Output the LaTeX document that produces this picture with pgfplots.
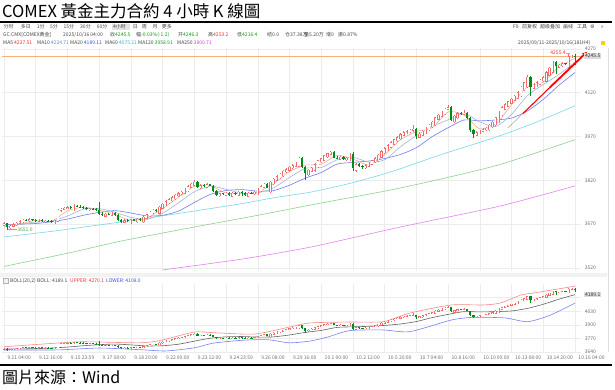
\documentclass[border=0pt]{standalone}
\usepackage{fontspec}
\usepackage{pgfplots}
\pgfplotsset{compat=1.18}
\usepackage{pgfplotstable}
\usetikzlibrary{arrows.meta}
\setmainfont{Noto Sans CJK SC}
\newfontfamily\tcfont{Noto Sans CJK TC}
\newfontfamily\symfont{DejaVu Sans}

\definecolor{upred}{RGB}{243,105,105}
\definecolor{dngreen}{RGB}{0,140,20}
\definecolor{gridc}{RGB}{236,236,236}
\definecolor{ma5c}{RGB}{240,160,140}
\definecolor{ma10c}{RGB}{165,180,215}
\definecolor{ma20c}{RGB}{110,125,240}
\definecolor{ma60c}{RGB}{120,215,235}
\definecolor{ma120c}{RGB}{140,210,140}
\definecolor{ma250c}{RGB}{228,130,240}
\definecolor{bollup}{RGB}{245,140,140}
\definecolor{bollmid}{RGB}{100,100,100}
\definecolor{bolllow}{RGB}{120,130,245}
\definecolor{txtgray}{RGB}{110,110,110}
\definecolor{txtdark}{RGB}{70,70,70}
\definecolor{lastc}{RGB}{245,175,120}
\definecolor{valred}{RGB}{230,50,50}
\definecolor{valgreen}{RGB}{20,150,20}
\definecolor{valblue}{RGB}{50,80,230}
\definecolor{valcyan}{RGB}{60,180,220}
\definecolor{valmag}{RGB}{210,60,220}
\definecolor{valgb}{RGB}{100,140,200}

\pgfplotstableread{
i o h l c
0 3665 3676 3662 3672
1 3672 3674 3651 3660
2 3656 3668 3654 3665
3 3661 3673 3659 3670
4 3666 3678 3664 3675
5 3671 3683 3669 3680
6 3677 3688 3675 3684
7 3684 3687 3679 3682
8 3679 3690 3677 3686
9 3686 3689 3680 3683
10 3683 3686 3678 3681
11 3678 3688 3676 3684
12 3684 3686 3676 3679
13 3676 3685 3674 3682
14 3682 3685 3677 3680
15 3680 3683 3673 3676
16 3672 3684 3670 3681
17 3678 3721 3676 3718
18 3715 3726 3713 3722
19 3719 3729 3717 3725
20 3722 3732 3720 3728
21 3728 3731 3720 3724
22 3717 3738 3715 3733
23 3733 3736 3727 3730
24 3730 3734 3725 3727
25 3727 3731 3723 3726
26 3726 3729 3717 3720
27 3717 3726 3715 3723
28 3723 3726 3718 3721
29 3721 3724 3716 3719
30 3719 3746 3702 3705
31 3705 3710 3696 3700
32 3695 3709 3693 3706
33 3706 3709 3700 3703
34 3699 3711 3697 3708
35 3708 3710 3697 3700
36 3700 3703 3680 3684
37 3684 3687 3672 3678
38 3674 3686 3672 3683
39 3683 3686 3676 3679
40 3673 3689 3671 3686
41 3686 3689 3679 3682
42 3677 3691 3675 3688
43 3688 3690 3682 3685
44 3677 3698 3675 3695
45 3689 3706 3687 3703
46 3696 3715 3694 3712
47 3707 3721 3705 3718
48 3718 3720 3712 3716
49 3705 3733 3703 3730
50 3722 3743 3720 3740
51 3734 3751 3732 3748
52 3742 3758 3740 3755
53 3749 3765 3747 3762
54 3756 3773 3754 3770
55 3765 3779 3763 3776
56 3772 3784 3770 3781
57 3774 3793 3772 3790
58 3782 3803 3780 3800
59 3794 3811 3792 3808
60 3802 3820 3800 3815
61 3815 3818 3794 3797
62 3792 3806 3790 3803
63 3803 3806 3797 3800
64 3795 3809 3793 3806
65 3806 3808 3799 3802
66 3802 3805 3781 3784
67 3784 3787 3765 3770
68 3766 3778 3764 3775
69 3775 3778 3769 3772
70 3767 3781 3765 3778
71 3778 3780 3766 3770
72 3764 3780 3762 3777
73 3777 3780 3770 3773
74 3767 3783 3765 3780
75 3780 3783 3765 3776
76 3776 3779 3767 3770
77 3764 3781 3762 3778
78 3778 3781 3773 3776
79 3773 3783 3771 3780
80 3772 3793 3770 3790
81 3782 3803 3780 3800
82 3794 3811 3792 3808
83 3808 3811 3792 3795
84 3779 3818 3777 3815
85 3807 3828 3805 3825
86 3818 3837 3816 3834
87 3828 3845 3826 3842
88 3834 3855 3832 3852
89 3847 3861 3845 3858
90 3852 3869 3850 3866
91 3861 3875 3859 3872
92 3866 3883 3864 3880
93 3866 3900 3864 3897
94 3897 3899 3862 3866
95 3866 3869 3822 3845
96 3837 3858 3835 3855
97 3849 3865 3847 3862
98 3852 3878 3850 3875
99 3865 3891 3863 3888
100 3882 3898 3880 3895
101 3887 3908 3885 3905
102 3899 3915 3897 3912
103 3908 3921 3906 3917
104 3917 3920 3895 3898
105 3898 3902 3892 3895
106 3891 3904 3889 3900
107 3900 3903 3890 3893
108 3889 3901 3887 3898
109 3888 3913 3886 3910
110 3910 3918 3852 3862
111 3852 3878 3850 3875
112 3875 3878 3864 3868
113 3868 3871 3860 3866
114 3861 3875 3859 3872
115 3866 3883 3864 3880
116 3874 3891 3872 3888
117 3882 3899 3880 3896
118 3886 3911 3884 3908
119 3898 3923 3896 3920
120 3912 3933 3910 3930
121 3922 3943 3920 3940
122 3932 3953 3930 3950
123 3942 3963 3940 3960
124 3954 3971 3952 3968
125 3960 3981 3958 3978
126 3972 3988 3970 3985
127 3982 3991 3980 3988
128 3985 3995 3983 3992
129 3989 4010 3987 3996
130 3996 3999 3960 3972
131 3966 3984 3964 3980
132 3972 3993 3970 3990
133 3982 4003 3980 4000
134 3992 4013 3990 4010
135 4002 4023 4000 4020
136 4008 4038 4006 4035
137 4027 4048 4025 4045
138 4037 4058 4035 4055
139 4047 4068 4045 4065
140 4061 4078 4059 4070
141 4070 4073 4022 4028
142 4018 4043 4016 4040
143 4032 4053 4030 4050
144 4050 4054 4043 4048
145 4045 4062 4043 4052
146 4052 4055 4030 4034
147 4034 4037 3985 3992
148 3992 3996 3965 3978
149 3972 3988 3970 3985
150 3981 3993 3979 3990
151 3986 3998 3984 3995
152 3991 4003 3989 4000
153 3992 4013 3990 4010
154 4002 4023 4000 4020
155 4008 4038 4006 4035
156 4019 4058 4017 4055
157 4043 4073 4041 4070
158 4062 4083 4060 4080
159 4072 4093 4070 4090
160 4082 4103 4080 4100
161 4092 4113 4090 4110
162 4100 4125 4098 4122
163 4108 4143 4106 4140
164 4128 4158 4126 4155
165 4139 4180 4137 4175
166 4175 4178 4110 4140
167 4134 4152 4132 4148
168 4142 4159 4140 4155
169 4147 4168 4145 4165
170 4159 4176 4157 4172
171 4158 4193 4156 4190
172 4178 4208 4176 4205
173 4189 4228 4187 4225
174 4225 4228 4185 4210
175 4206 4219 4204 4215
176 4211 4224 4209 4220
177 4220 4223 4214 4218
178 4205 4255.4 4203 4245
179 4243 4250 4238 4246.3
180 4246.3 4253.2 4216.4 4245.5
}\kdata

\pgfplotsset{
  kaxis/.style={
    scale only axis, width=578.9pt, xmin=-0.5, xmax=182,
    axis line style={draw=none}, major tick length=0pt,
    grid=major, major grid style={draw=gridc, line width=0.45pt},
    xtick={0,10,...,180},
    yticklabel pos=right,
    ticklabel style={font=\fontsize{5}{6}\selectfont, text=txtgray},
    /pgf/number format/assume math mode=true,
    /pgf/number format/1000 sep={},
    scaled y ticks=false,
    clip=false,
  },
  ebar/.style n args={2}{draw=none, mark=none, color=#2,
    error bars/y dir=plus, error bars/y explicit, error bars/error mark=none,
    error bars/error bar style={line width=#1, draw=#2, solid}},
}

\newcommand{\drawcandles}[2]{%
  \addplot[ebar={0.45pt}{upred}, restrict expr to domain={\thisrow{c}-\thisrow{o}}{0:100000}]
    table[x=i, y=l, y error plus expr=\thisrow{h}-\thisrow{l}] {\kdata};
  \addplot[ebar={0.45pt}{dngreen}, restrict expr to domain={\thisrow{o}-\thisrow{c}}{0.001:100000}]
    table[x=i, y=l, y error plus expr=\thisrow{h}-\thisrow{l}] {\kdata};
  \addplot[ebar={2.2pt}{upred}, restrict expr to domain={\thisrow{c}-\thisrow{o}}{0:100000}]
    table[x=i, y=o, y error plus expr=\thisrow{c}-\thisrow{o}] {\kdata};
  \addplot[ebar={1.2pt}{white}, restrict expr to domain={\thisrow{c}-\thisrow{o}}{#2:100000}]
    table[x=i, y expr=\thisrow{o}+#1, y error plus expr=\thisrow{c}-\thisrow{o}-2*#1] {\kdata};
  \addplot[ebar={2.2pt}{dngreen}, restrict expr to domain={\thisrow{o}-\thisrow{c}}{0.001:100000}]
    table[x=i, y=c, y error plus expr=\thisrow{o}-\thisrow{c}] {\kdata};
}

\begin{document}
\begin{tikzpicture}[x=1pt,y=1pt]
\fill[white] (0,0) rectangle (615,390);
\path[use as bounding box] (0,0) rectangle (615,390);

% title and rules
\node[anchor=base west, inner sep=0, font=\tcfont\fontsize{16.5}{16.5}\selectfont] at (2,372.5) {COMEX 黃金主力合約 4 小時 K 線圖};
\draw[black, line width=1.3pt] (0,368) -- (612,368);
\draw[black, line width=1.3pt] (0,25) -- (612,25);
\node[anchor=base west, inner sep=0, font=\tcfont\fontsize{16}{16}\selectfont] at (2,6) {圖片來源：Wind};

% toolbar
\begin{scope}[every node/.style={anchor=west, inner sep=0, font=\fontsize{5}{6}\selectfont, text=txtdark}]
\node at (3.3,363) {分时};
\node at (20.7,363) {多日};
\node at (36.7,363) {1分};
\node at (50,363) {5分};
\node at (63.3,363) {15分};
\node at (80,363) {30分};
\node at (96.7,363) {60分};
\fill[gray!22] (111.5,360) rectangle (129.5,366);
\node at (113,363) {4小时};
\node at (132.7,363) {日};
\node at (141.7,363) {周};
\node at (152.3,363) {月};
\node at (161.7,363) {更多};
\node at (513,363) {F9};
\node at (522,363) {前复权};
\node at (540,363) {超级叠加};
\node at (563,363) {画线};
\node at (577,363) {工具};
\node[font=\symfont\fontsize{5}{6}\selectfont] at (590,363) {⚙};
\node at (601,363) {»};
% info row
\node at (3,355.5) {GC.CMX[COMEX黄金]};
\node at (63,355.5) {2025/10/16 04:00};
\node at (110,355.5) {收\textcolor{valgreen}{4245.5}};
\node at (136,355.5) {幅\textcolor{valgreen}{-0.03\%(-1.2)}};
\node at (178,355.5) {开\textcolor{valgreen}{4246.3}};
\node at (208,355.5) {高\textcolor{valred}{4253.2}};
\node at (237,355.5) {低\textcolor{valgreen}{4216.4}};
\node at (267,355.5) {结0.0};
\node at (285,355.5) {仓37.38万};
\node at (304,355.5) {量5.20万};
\node at (326,355.5) {增0};
\node at (338,355.5) {振0.87\%};
% MA row
\node at (3,347.7) {MA5 \textcolor{valred}{4237.51}};
\node at (37,347.7) {MA10 \textcolor{valgb}{4224.71}};
\node at (70,347.7) {MA20 \textcolor{valblue}{4189.11}};
\node at (105,347.7) {MA60 \textcolor{valcyan}{4075.21}};
\node at (138,347.7) {MA120 \textcolor{valgreen}{3958.91}};
\node at (177,347.7) {MA250 \textcolor{valmag}{3800.71}};
\node at (518,347) {2025/09/11-2025/10/16(181H4)};
% BOLL row
\node at (10,109.5) {BOLL(20,2)};
\node at (37,109.5) {BOLL: 4189.1};
\node at (70,109.5) {\textcolor{valred}{UPPER: 4270.1}};
\node at (106,109.5) {\textcolor{valblue}{LOWER: 4108.0}};
\end{scope}
\fill[yellow!70!orange] (601,345) rectangle (605,349);
\draw[gray!60, line width=0.4pt, fill=gray!10] (3,107) rectangle (8,112);
\fill[gray!10] (0,112.5) rectangle (607,116.5);
\draw[gray!25, line width=1pt] (608,38) -- (608,342);

% ---------------- main K-line panel ----------------
\begin{axis}[kaxis, at={(2.4pt,119.2pt)}, anchor=south west, height=222.5pt,
  ymin=3510, ymax=4272, ytick={3520,3670,3820,3970,4120,4270}, xticklabels={}]
\addplot[lastc, line width=0.6pt] coordinates {(-0.5,4245.5) (182,4245.5)};
\addplot[ma250c, line width=0.6pt, smooth, tension=0.4] coordinates {(50,3513)(75,3550)(97,3592)(125,3660)(156.5,3732)(180,3800.7)};
\addplot[ma120c, line width=0.6pt, smooth, tension=0.4] coordinates {(0,3525)(20,3570)(37,3612)(62,3664)(80,3700)(97,3736)(122,3787)(140,3830)(157,3876)(180,3958.9)};
\addplot[ma60c, line width=0.6pt, smooth, tension=0.4] coordinates {(0,3626)(15,3645)(30,3667)(45,3690)(62,3718)(75,3740)(85,3760)(97,3780)(110,3812)(122,3849)(137,3905)(150,3950)(157,3975)(168,4020)(180,4075.2)};
\addplot[ma20c, line width=0.6pt, smooth, tension=0.4] coordinates {(0,3668)(10,3672)(15,3678)(20,3687)(25,3700)(30,3710)(35,3716)(40,3708)(45,3698)(50,3700)(55,3714.5)(60,3744)(65,3771.5)(70,3785)(75,3788)(80,3783)(85,3785)(90,3803)(95,3827.5)(100,3846.5)(105,3875.5)(110,3881)(115,3886)(120,3894.5)(125,3908.5)(130,3931.5)(135,3969.5)(140,4000)(145,4026.5)(150,4023.5)(155,4026.5)(160,4033)(165,4057)(170,4097)(175,4146)(180,4189.1)};
\addplot[ma10c, line width=0.6pt, smooth, tension=0.4] coordinates {(0,3660)(5,3668)(9,3676)(15,3680)(20,3697.5)(25,3721)(30,3723)(35,3710.5)(40,3693)(45,3686)(50,3707)(55,3743)(60,3780.5)(65,3800)(70,3789)(75,3775.5)(80,3777)(85,3794)(90,3829.5)(95,3861)(100,3863.5)(105,3890)(110,3899)(115,3882)(120,3890)(125,3935)(130,3973)(135,4004)(140,4027)(145,4049)(150,4020)(155,4004)(160,4045.5)(165,4110)(170,4148)(175,4182.5)(180,4224.7)};
\addplot[ma5c, line width=0.5pt, smooth, tension=0.4] coordinates {(0,3666)(5,3670)(10,3683)(15,3680)(20,3715)(25,3728)(30,3718)(35,3703)(40,3682)(45,3691)(50,3723)(55,3762)(60,3799)(65,3802)(70,3776)(75,3775)(80,3779)(85,3809)(90,3850)(95,3872)(100,3875)(105,3905)(110,3893)(115,3872)(120,3908)(125,3959)(130,3987)(135,4000)(140,4054)(145,4044)(150,3996)(155,4012)(160,4079)(165,4140)(170,4156)(175,4209)(180,4237.5)};
\drawcandles{1.5}{3.2}
% annotations
\addplot[gray!70, line width=0.4pt] coordinates {(1.3,3651) (4,3651)};
\node[anchor=west, inner sep=0.5pt, font=\fontsize{5}{6}\selectfont, text=valgreen!80!white] at (axis cs:4,3651) {3651.0};
\addplot[ma10c, line width=0.4pt] coordinates {(177.3,4255.4) (178.3,4255.4)};
\node[anchor=east, inner sep=0.5pt, font=\fontsize{5}{6}\selectfont, text=valred] at (axis cs:177.3,4256) {4255.4};
\addplot[red!80!white, line width=0.5pt, opacity=0.6] coordinates {(158.9,3999.4) (163.6,4048.7)};
\addplot[red, line width=1.1pt] coordinates {(163.6,4048.7) (172,4137)};
\addplot[red, line width=1.8pt, -{Stealth[length=5pt,width=5pt]}] coordinates {(172,4137) (183.8,4259.7)};
\node[anchor=west, fill=gray!28, inner sep=1pt, font=\fontsize{5}{6}\selectfont, text=black!80] at (axis cs:182.8,4245.5) {4245.5};
\end{axis}

% ---------------- BOLL panel ----------------
\begin{axis}[kaxis, at={(2.4pt,38pt)}, anchor=south west, height=68pt,
  ymin=3640, ymax=4291, ytick={3640,3770,3900,4030,4160}, yticklabels={3640,3770,3900,4030,{}},
  xticklabels={9.11 04:00,9.12 16:00,9.15 23:59,9.17 08:00,9.18 20:00,9.22 00:00,9.23 12:00,9.24 23:59,9.26 08:00,9.29 16:00,10.1 00:00,10.2 12:00,10.5 20:00,10.7 04:00,10.8 16:00,10.10 00:00,10.13 08:00,10.14 20:00,10.16 04:00},
  xticklabel style={anchor=north west}]
\addplot[bolllow, line width=0.6pt, smooth, tension=0.4] coordinates {(0,3659)(17,3660)(30,3678)(43,3662)(51,3650)(60,3680)(66,3725)(75,3752)(83,3758)(90,3728)(96.5,3745)(102,3783)(109,3845)(119.5,3851)(128,3835)(141,3946)(148,3972)(158,3966)(165,3930)(172,3990)(180,4108)};
\addplot[bollup, line width=0.6pt, smooth, tension=0.4] coordinates {(0,3690)(17,3726)(25,3738)(43,3728)(50,3755)(60,3831)(66,3825)(79,3812)(90,3879)(96.5,3918)(109,3927)(119.5,3930)(128,4013)(141,4090)(151,4090)(156.5,4109)(163,4186)(167,4205)(180,4270.1)};
\addplot[bollmid, line width=0.6pt, smooth, tension=0.4] coordinates {(0,3668)(10,3672)(15,3678)(20,3687)(25,3700)(30,3710)(35,3716)(40,3708)(45,3698)(50,3700)(55,3714.5)(60,3744)(65,3771.5)(70,3785)(75,3788)(80,3783)(85,3785)(90,3803)(95,3827.5)(100,3846.5)(105,3875.5)(110,3881)(115,3886)(120,3894.5)(125,3908.5)(130,3931.5)(135,3969.5)(140,4000)(145,4026.5)(150,4023.5)(155,4026.5)(160,4033)(165,4057)(170,4097)(175,4146)(180,4189.1)};
\drawcandles{4.3}{9}
\node[anchor=west, fill=gray!28, inner sep=1pt, font=\fontsize{5}{6}\selectfont, text=black!80] at (axis cs:182.8,4189.1) {4189.1};
\end{axis}
\end{tikzpicture}
\end{document}
